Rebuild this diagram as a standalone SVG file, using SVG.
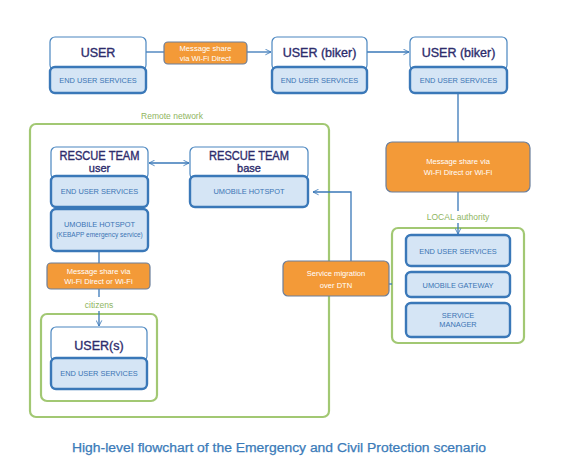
<svg xmlns="http://www.w3.org/2000/svg" width="565" height="475" viewBox="0 0 565 475">
<defs>
<style>
.title{fill:#fff;stroke:#4a86c0;stroke-width:1.2}
.svc{fill:#d5e5f5;stroke:#3a78b8;stroke-width:2.4}
.org{fill:#f39a38;stroke:#6b7f9c;stroke-width:1.2}
.grp{fill:none;stroke:#a2c873;stroke-width:2.2}
.t1{font-family:"Liberation Sans",Arial,sans-serif;font-size:12.5px;fill:#2d2c6c;stroke:#2d2c6c;stroke-width:0.35;text-anchor:middle}
.t2{font-family:"Liberation Sans",Arial,sans-serif;font-size:7.4px;fill:#3a74b4;text-anchor:middle}
.to{font-family:"Liberation Sans",Arial,sans-serif;font-size:7.6px;fill:#fff;text-anchor:middle}
.tg{font-family:"Liberation Sans",Arial,sans-serif;font-size:8.5px;fill:#8fb55f;text-anchor:middle}
.ln{fill:none;stroke:#3a78b8;stroke-width:1.3}
</style>
<marker id="ah" viewBox="0 0 10 10" refX="9" refY="5" markerWidth="7" markerHeight="7" orient="auto-start-reverse" markerUnits="userSpaceOnUse">
<path d="M1,1 L9,5 L1,9" fill="none" stroke="#3a78b8" stroke-width="1.2"/>
</marker>
</defs>
<rect width="565" height="475" fill="#fff"/>

<g id="groups">
<rect id="remote" class="grp" x="30" y="124" width="299" height="293" rx="6"/>
<text class="tg" x="172" y="119">Remote network</text>
<rect id="citizens-grp" class="grp" x="41" y="314" width="116" height="87" rx="6"/>
<text class="tg" x="99" y="308">citizens</text>
<rect id="local-grp" class="grp" x="392" y="228" width="132" height="115" rx="6"/>
<text class="tg" x="458" y="220">LOCAL authority</text>
</g>

<g id="connectors">
<line class="ln" x1="146" y1="52" x2="164" y2="52"/>
<line class="ln" x1="247" y1="52" x2="271" y2="52" marker-end="url(#ah)"/>
<line class="ln" x1="367" y1="52" x2="409" y2="52" marker-end="url(#ah)"/>
<line class="ln" x1="458" y1="93" x2="458" y2="142"/>
<line class="ln" x1="458" y1="192" x2="458" y2="211"/>
<line class="ln" x1="458" y1="223" x2="458" y2="234" marker-end="url(#ah)"/>
<line class="ln" x1="149" y1="163" x2="189" y2="163" marker-start="url(#ah)" marker-end="url(#ah)"/>
<polyline class="ln" points="351,261 351,192 313,192" marker-end="url(#ah)"/>
<line class="ln" x1="389" y1="284" x2="392" y2="284"/>
<line class="ln" x1="99" y1="251" x2="99" y2="263"/>
<line class="ln" x1="99" y1="289" x2="99" y2="297"/>
<line class="ln" x1="99" y1="311" x2="99" y2="326" marker-end="url(#ah)"/>
</g>

<g id="user">
<rect class="title" x="50" y="37" width="96" height="33" rx="5"/>
<rect class="svc" x="50" y="67" width="96" height="26" rx="5"/>
<text class="t1" x="98" y="57">USER</text>
<text class="t2" x="98" y="83">END USER SERVICES</text>
</g>

<g id="msg1">
<rect class="org" x="164" y="42" width="83" height="22" rx="4"/>
<text class="to" x="205.5" y="51">Message share</text>
<text class="to" x="205.5" y="60.5">via Wi-Fi Direct</text>
</g>

<g id="biker1">
<rect class="title" x="272" y="37" width="95" height="33" rx="5"/>
<rect class="svc" x="272" y="67" width="95" height="26" rx="5"/>
<text class="t1" x="319.5" y="57">USER (biker)</text>
<text class="t2" x="319.5" y="83">END USER SERVICES</text>
</g>

<g id="biker2">
<rect class="title" x="410" y="37" width="97" height="33" rx="5"/>
<rect class="svc" x="410" y="67" width="97" height="26" rx="5"/>
<text class="t1" x="458.5" y="57">USER (biker)</text>
<text class="t2" x="458.5" y="83">END USER SERVICES</text>
</g>

<g id="msg2">
<rect class="org" x="386" y="142" width="144" height="50" rx="6"/>
<text class="to" x="458" y="164">Message share via</text>
<text class="to" x="458" y="175">Wi-Fi Direct or Wi-Fi</text>
</g>

<g id="local">
<rect class="svc" x="406" y="235" width="104" height="31" rx="5"/>
<text class="t2" x="458" y="253.5">END USER SERVICES</text>
<rect class="svc" x="406" y="272" width="104" height="25" rx="5"/>
<text class="t2" x="458" y="287.5">UMOBILE GATEWAY</text>
<rect class="svc" x="406" y="303" width="104" height="34" rx="5"/>
<text class="t2" x="458" y="318">SERVICE</text>
<text class="t2" x="458" y="326.5">MANAGER</text>
</g>

<g id="migration">
<rect class="org" x="283" y="261" width="106" height="35" rx="5"/>
<text class="to" x="336" y="276">Service migration</text>
<text class="to" x="336" y="287.5">over DTN</text>
</g>

<g id="rescue-user">
<rect class="title" x="51" y="147" width="97" height="32" rx="5"/>
<rect class="svc" x="51" y="176" width="97" height="31" rx="5"/>
<text class="t1" x="99.5" y="160" textLength="80" lengthAdjust="spacingAndGlyphs">RESCUE TEAM</text>
<text class="t1" x="99.5" y="172" style="font-size:11px">user</text>
<text class="t2" x="99.5" y="194">END USER SERVICES</text>
<rect class="svc" x="51" y="209" width="97" height="42" rx="5"/>
<text class="t2" x="99.5" y="227">UMOBILE HOTSPOT</text>
<text class="t2" x="99.5" y="237" style="font-size:6.5px">(KEBAPP emergency service)</text>
</g>

<g id="rescue-base">
<rect class="title" x="190" y="147" width="118" height="32" rx="5"/>
<rect class="svc" x="190" y="176" width="118" height="31" rx="5"/>
<text class="t1" x="249" y="160" textLength="80" lengthAdjust="spacingAndGlyphs">RESCUE TEAM</text>
<text class="t1" x="249" y="172" style="font-size:11px">base</text>
<text class="t2" x="249" y="194">UMOBILE HOTSPOT</text>
</g>

<g id="msg3">
<rect class="org" x="47" y="263" width="103" height="26" rx="4"/>
<text class="to" x="98.5" y="273.5">Message share via</text>
<text class="to" x="98.5" y="284">Wi-Fi Direct or Wi-Fi</text>
</g>

<g id="users">
<rect class="title" x="51" y="327" width="96" height="34" rx="5"/>
<rect class="svc" x="51" y="358" width="96" height="31" rx="5"/>
<text class="t1" x="99" y="350">USER(s)</text>
<text class="t2" x="99" y="376">END USER SERVICES</text>
</g>

<text x="279" y="452" font-family="'Liberation Sans',Arial,sans-serif" font-size="12.5" fill="#3b7bb9" stroke="#3b7bb9" stroke-width="0.25" text-anchor="middle" textLength="414" lengthAdjust="spacingAndGlyphs">High-level flowchart of the Emergency and Civil Protection scenario</text>
</svg>
